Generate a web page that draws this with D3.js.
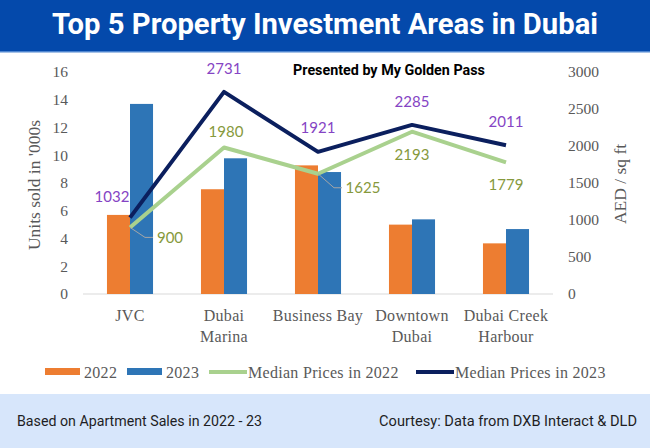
<!DOCTYPE html>
<html><head><meta charset="utf-8">
<script src="https://cdn.jsdelivr.net/npm/d3@7"></script>
<style>html,body{margin:0;padding:0;background:#fff;}svg{display:block;}</style>
</head><body>
<script>
const categories = [["JVC"], ["Dubai", "Marina"], ["Business Bay"], ["Downtown", "Dubai"], ["Dubai Creek", "Harbour"]];
const units2022 = [5.7, 7.55, 9.27, 5.0, 3.65];
const units2023 = [13.7, 9.78, 8.79, 5.38, 4.68];
const price2022 = [900, 1980, 1625, 2193, 1779];
const price2023 = [1032, 2731, 1921, 2285, 2011];
const leftTicks = [0, 2, 4, 6, 8, 10, 12, 14, 16];
const rightTicks = [0, 500, 1000, 1500, 2000, 2500, 3000];
const seriesNames = ["2022", "2023", "Median Prices in 2022", "Median Prices in 2023"];

const W = 650, H = 448;
const colors = {o:"#ED7D31", b:"#2E75B6", g:"#A9D18E", n:"#0B1F5E", purple:"#8544C4", olive:"#86993C", axis:"#595959"};
const svg = d3.select("body").append("svg").attr("width", W).attr("height", H);

function fit(sel, target){ const w = sel.node().getComputedTextLength(); const fs = parseFloat(sel.attr("font-size")); sel.attr("font-size", (fs*target/w).toFixed(2)); }

// title bar
svg.append("rect").attr("x",0).attr("y",0).attr("width",W).attr("height",52).attr("fill","#0449AB");
svg.append("rect").attr("x",0).attr("y",51).attr("width",W).attr("height",1.5).attr("fill","#4F86D0");
const title = svg.append("text").attr("x",325).attr("y",34).attr("text-anchor","middle").attr("fill","#fff")
  .attr("font-family","Roboto, 'Noto Sans', sans-serif").attr("font-weight","bold").attr("font-size",26)
  .text("Top 5 Property Investment Areas in Dubai");
fit(title, 546);

// footer
svg.append("rect").attr("x",0).attr("y",394).attr("width",W).attr("height",H-394).attr("fill","#D7E6FB");
const f1 = svg.append("text").attr("x",17).attr("y",426).attr("fill","#1e1e24")
  .attr("font-family","Roboto, 'Noto Sans', sans-serif").attr("font-size",14).text("Based on Apartment Sales in 2022 - 23");
fit(f1, 245);
const f2 = svg.append("text").attr("x",637).attr("y",426).attr("text-anchor","end").attr("fill","#1e1e24")
  .attr("font-family","Roboto, 'Noto Sans', sans-serif").attr("font-size",14).text("Courtesy: Data from DXB Interact & DLD");
fit(f2, 258);

// scales
const keys = categories.map(c => c.join(" "));
const x0 = d3.scaleBand().domain(keys).range([83, 553]).paddingInner(0.51).paddingOuter(0.255);
const x1 = d3.scaleBand().domain(["2022","2023"]).range([0, x0.bandwidth()]);
const yL = d3.scaleLinear().domain([0, 16]).range([294, 72]);
const yR = d3.scaleLinear().domain([0, 3000]).range([294, 72]);
const cx = k => x0(k) + x0.bandwidth()/2;

const serif = "'Liberation Serif', 'DejaVu Serif', serif";

// axes
const axL = svg.append("g").attr("transform","translate(70,0)").call(d3.axisLeft(yL).tickValues(leftTicks).tickFormat(d3.format("d")).tickSize(0).tickPadding(2));
const axR = svg.append("g").attr("transform","translate(566,0)").call(d3.axisRight(yR).tickValues(rightTicks).tickFormat(d3.format("d")).tickSize(0).tickPadding(2));
[axL, axR].forEach(a => { a.select(".domain").remove(); a.selectAll("text").attr("font-family", serif).attr("font-size",15.5).attr("fill",colors.axis); });

// baseline
svg.append("line").attr("x1",83).attr("x2",553).attr("y1",yL(0)).attr("y2",yL(0)).attr("stroke","#D9D9D9").attr("stroke-width",1);

svg.append("text").attr("transform","translate(40,185) rotate(-90)").attr("text-anchor","middle")
  .attr("font-family",serif).attr("font-size",17.5).attr("fill",colors.axis).text("Units sold in '000s");
svg.append("text").attr("transform","translate(626,184) rotate(-90)").attr("text-anchor","middle")
  .attr("font-family",serif).attr("font-size",17.5).attr("fill",colors.axis).text("AED / sq ft");

// category labels
const cat = svg.append("g");
categories.forEach((lines, i) => {
  const t = cat.append("text").attr("x", cx(keys[i])).attr("y", 321).attr("text-anchor","middle")
    .attr("font-family",serif).attr("font-size",16).attr("fill",colors.axis).attr("letter-spacing",0.3);
  lines.forEach((l, j) => t.append("tspan").attr("x", cx(keys[i])).attr("dy", j ? 21 : 0).text(l));
});

// bars
const barData = keys.map((k, i) => ({k, vals:[{s:"2022", v:units2022[i]}, {s:"2023", v:units2023[i]}]}));
svg.append("g").selectAll("g").data(barData).join("g").attr("transform", d => `translate(${x0(d.k)},0)`)
  .selectAll("rect").data(d => d.vals).join("rect")
  .attr("x", d => x1(d.s)).attr("width", x1.bandwidth()).attr("y", d => yL(d.v)).attr("height", d => yL(0) - yL(d.v))
  .attr("fill", d => d.s === "2022" ? colors.o : colors.b);

// lines
const line = d3.line().x((d,i) => cx(keys[i])).y(d => yR(d));
svg.append("path").datum(price2022).attr("d", line).attr("fill","none").attr("stroke",colors.g).attr("stroke-width",4).attr("stroke-linejoin","round");
svg.append("path").datum(price2023).attr("d", line).attr("fill","none").attr("stroke",colors.n).attr("stroke-width",4).attr("stroke-linejoin","round");

// data labels (offsets relative to points)
const off2023 = [[-18,-21],[0,-23],[0,-24],[0,-23],[0,-23]];
const off2022 = [[40,10],[2,-16],[45,14],[0,23],[0,22]];
const lab = (txt, x, y, col) => svg.append("text").attr("x",x).attr("y",y).attr("dy","0.35em").attr("text-anchor","middle")
  .attr("font-family","Lato, 'Open Sans', sans-serif").attr("font-size",15).attr("fill",col).text(txt);
price2023.forEach((v,i) => lab(v, cx(keys[i]) + off2023[i][0], yR(v) + off2023[i][1], colors.purple));
price2022.forEach((v,i) => lab(v, cx(keys[i]) + off2022[i][0], yR(v) + off2022[i][1], colors.olive));
// leader lines for 900 and 1625
[0, 2].forEach(i => {
  const px = cx(keys[i]), py = yR(price2022[i]);
  const ly = py + off2022[i][1];
  const lx = px + off2022[i][0] - (i === 0 ? 17 : 21);
  svg.append("polyline").attr("points", `${px},${py} ${lx-8},${ly} ${lx},${ly}`).attr("fill","none").attr("stroke","#A6A6A6").attr("stroke-width",1);
});

// subtitle
const sub = svg.append("text").attr("x",389).attr("y",75).attr("text-anchor","middle").attr("font-family","Roboto, 'Noto Sans', sans-serif")
  .attr("font-weight","bold").attr("font-size",13.5).attr("fill","#000").text("Presented by My Golden Pass");
fit(sub, 192);

// legend
const leg = svg.append("g");
const legItems = [
  {name:seriesNames[0], type:"bar", c:colors.o, x:45},
  {name:seriesNames[1], type:"bar", c:colors.b, x:127},
  {name:seriesNames[2], type:"line", c:colors.g, x:209},
  {name:seriesNames[3], type:"line", c:colors.n, x:416}
];
legItems.forEach(d => {
  if (d.type === "bar") leg.append("rect").attr("x", d.x).attr("y", 368).attr("width", 35).attr("height", 7).attr("fill", d.c);
  else leg.append("line").attr("x1", d.x).attr("x2", d.x+38).attr("y1", 372).attr("y2", 372).attr("stroke", d.c).attr("stroke-width", 4);
  leg.append("text").attr("x", d.x + 39).attr("y", 372).attr("dy","0.35em")
    .attr("font-family",serif).attr("font-size",16).attr("fill",colors.axis).attr("letter-spacing",0.3).text(d.name);
});
</script>
</body></html>
